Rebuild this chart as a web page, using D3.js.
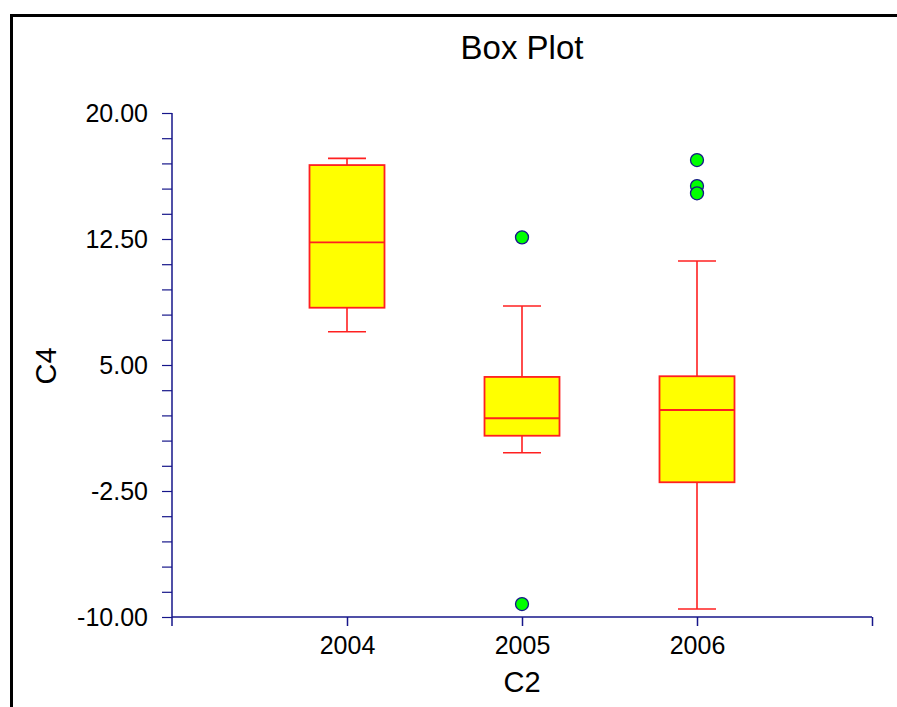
<!DOCTYPE html>
<html>
<head>
<meta charset="utf-8">
<script src="https://cdn.jsdelivr.net/npm/d3@7"></script>
<style>
  body { margin: 0; background: #fff; }
  text { font-family: Arial, "Liberation Sans", sans-serif; fill: #000; }
</style>
</head>
<body>
<div class="chart"></div>
<script>
// data
var categories = ["2004", "2005", "2006"];
var upperWhisker = [17.30, 8.51, 11.19];
var q3 = [16.90, 4.29, 4.33];
var median = [12.30, 1.83, 2.32];
var q1 = [8.41, 0.79, -1.98];
var lowerWhisker = [6.98, -0.22, -9.52];
var outliers = [[], [12.60, -9.23], [17.20, 15.65, 15.22]];
var yTicks = [-10, -2.5, 5, 12.5, 20];

var svgWidth = 897, svgHeight = 707;
var margin = { top: 113, right: 25, bottom: 90, left: 172 };
var chartWidth = svgWidth - margin.left - margin.right;   // 700
var chartHeight = svgHeight - margin.top - margin.bottom; // 504

var svg = d3.select(".chart")
  .append("svg")
  .attr("width", svgWidth)
  .attr("height", svgHeight);

// frame (top + left edges visible)
svg.append("path")
  .attr("d", "M11.5,707 L11.5,15.5 L897,15.5")
  .attr("fill", "none")
  .attr("stroke", "#000")
  .attr("stroke-width", 3);

var chartGroup = svg.append("g")
  .attr("transform", `translate(${margin.left}, ${margin.top})`);

var xScale = d3.scaleLinear()
  .domain([0, 4])
  .range([0, chartWidth]);

var yScale = d3.scaleLinear()
  .domain([-10, 20])
  .range([chartHeight, 0]);

var axisColor = "#16168a";
var fmt = d3.format(".2f");

// y axis: major labels every 7.5, minor ticks every 1.5
var yAxis = d3.axisLeft(yScale)
  .tickValues(d3.range(-10, 20.01, 1.5))
  .tickSize(10)
  .tickPadding(14)
  .tickFormat(d => yTicks.some(t => Math.abs(t - d) < 1e-6) ? fmt(d).replace("\u2212", "-") : "");

var yG = chartGroup.append("g").call(yAxis);
yG.select(".domain").attr("stroke", axisColor).attr("stroke-width", 1.5).attr("d", `M0,0V${chartHeight + 9}`);
yG.selectAll(".tick line").attr("stroke", axisColor).attr("stroke-width", 1.2);
yG.selectAll(".tick text").style("font-size", "25px").attr("dy", "0.35em");

// x axis
var xAxis = d3.axisBottom(xScale)
  .tickValues([1, 2, 3, 4])
  .tickSize(9)
  .tickPadding(10)
  .tickFormat(d => categories[d - 1] || "");

var xG = chartGroup.append("g")
  .attr("transform", `translate(0, ${chartHeight})`)
  .call(xAxis);
xG.select(".domain").attr("stroke", axisColor).attr("stroke-width", 1.5).attr("d", `M0,0H${chartWidth}`);
xG.selectAll(".tick line").attr("stroke", axisColor).attr("stroke-width", 1.5);
xG.selectAll(".tick text").style("font-size", "25px");

// boxes
var boxWidth = 75, capWidth = 38;
var boxes = chartGroup.selectAll(".box")
  .data(categories)
  .enter()
  .append("g")
  .attr("class", "box")
  .attr("transform", (d, i) => `translate(${xScale(i + 1)}, 0)`);

var red = "#ff2020";

boxes.append("line")
  .attr("x1", 0).attr("x2", 0)
  .attr("y1", (d, i) => yScale(upperWhisker[i]))
  .attr("y2", (d, i) => yScale(q3[i]))
  .attr("stroke", red).attr("stroke-width", 1.6);

boxes.append("line")
  .attr("x1", 0).attr("x2", 0)
  .attr("y1", (d, i) => yScale(q1[i]))
  .attr("y2", (d, i) => yScale(lowerWhisker[i]))
  .attr("stroke", red).attr("stroke-width", 1.6);

boxes.append("line")
  .attr("x1", -capWidth / 2).attr("x2", capWidth / 2)
  .attr("y1", (d, i) => yScale(upperWhisker[i]))
  .attr("y2", (d, i) => yScale(upperWhisker[i]))
  .attr("stroke", red).attr("stroke-width", 1.6);

boxes.append("line")
  .attr("x1", -capWidth / 2).attr("x2", capWidth / 2)
  .attr("y1", (d, i) => yScale(lowerWhisker[i]))
  .attr("y2", (d, i) => yScale(lowerWhisker[i]))
  .attr("stroke", red).attr("stroke-width", 1.6);

boxes.append("rect")
  .attr("x", -boxWidth / 2)
  .attr("width", boxWidth)
  .attr("y", (d, i) => yScale(q3[i]))
  .attr("height", (d, i) => yScale(q1[i]) - yScale(q3[i]))
  .attr("fill", "#ffff00")
  .attr("stroke", red).attr("stroke-width", 1.8);

boxes.append("line")
  .attr("x1", -boxWidth / 2).attr("x2", boxWidth / 2)
  .attr("y1", (d, i) => yScale(median[i]))
  .attr("y2", (d, i) => yScale(median[i]))
  .attr("stroke", red).attr("stroke-width", 1.8);

// outliers
boxes.each(function (d, i) {
  d3.select(this).selectAll("circle")
    .data(outliers[i])
    .enter()
    .append("circle")
    .attr("cx", 0)
    .attr("cy", v => yScale(v))
    .attr("r", 6.5)
    .attr("fill", "#00ff00")
    .attr("stroke", axisColor)
    .attr("stroke-width", 1.3);
});

// labels
svg.append("text")
  .attr("x", xScale(2) + margin.left)
  .attr("y", 59)
  .attr("text-anchor", "middle")
  .style("font-size", "33px")
  .text("Box Plot");

svg.append("text")
  .attr("x", xScale(2) + margin.left)
  .attr("y", 692)
  .attr("text-anchor", "middle")
  .style("font-size", "29px")
  .text("C2");

svg.append("text")
  .attr("transform", "translate(56, 366) rotate(-90)")
  .attr("text-anchor", "middle")
  .style("font-size", "29px")
  .text("C4");
</script>
</body>
</html>
